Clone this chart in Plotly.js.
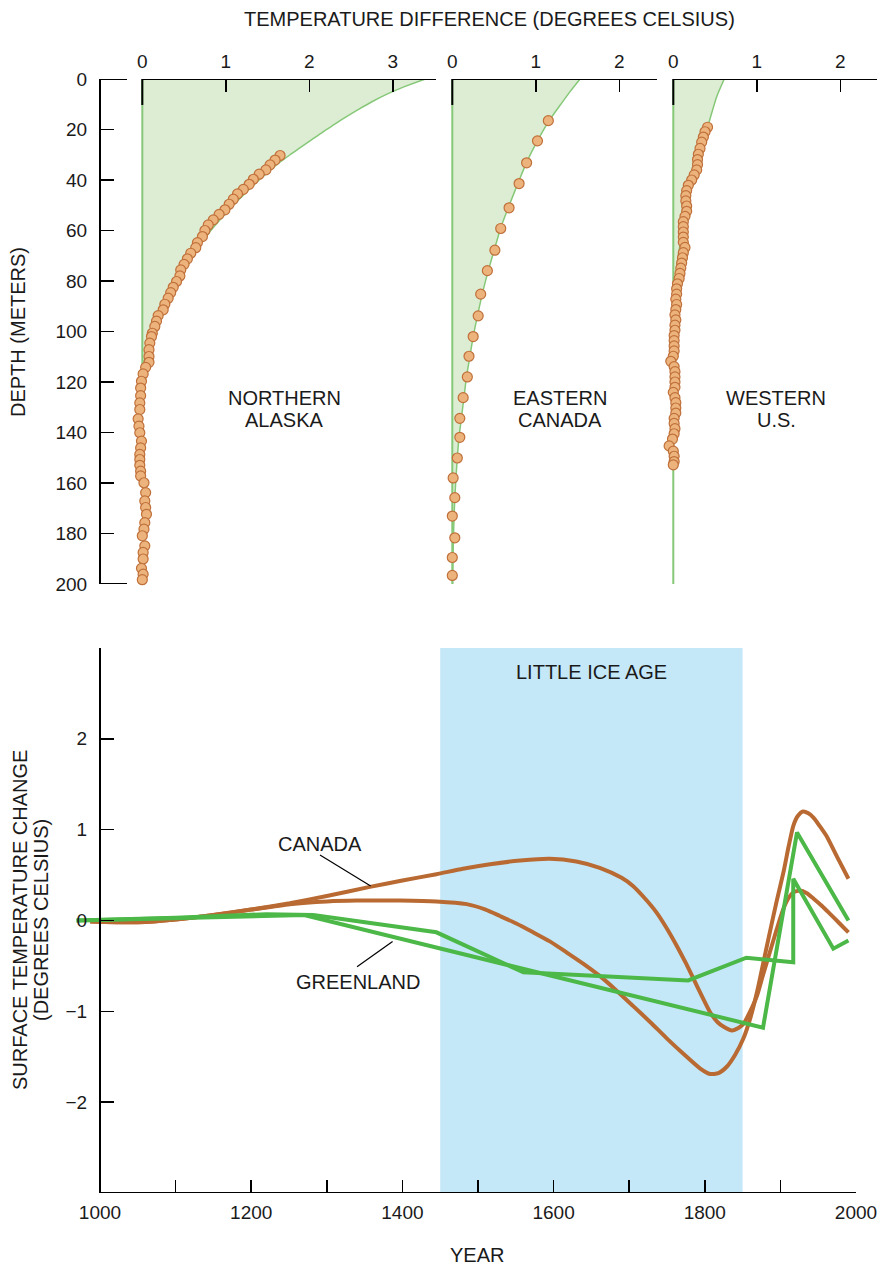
<!DOCTYPE html>
<html>
<head>
<meta charset="utf-8">
<script src="https://cdn.plot.ly/plotly-3.0.1.min.js"></script>
<style>html,body{margin:0;padding:0;background:#fff;}#chart{width:880px;height:1266px;}</style>
</head>
<body>
<div id="chart"></div>
<script>
// ---------- Top panels: borehole temperature-depth profiles ----------
const alaskaDepth = [30.3,32.1,34,36,37.7,39.7,41.7,43.7,45.5,47.6,49.6,51.8,53.6,55.8,57.8,60,62.4,64.8,66.8,69,71.2,73.4,75.6,78,80.2,82.5,84.6,86.8,89.2,91.4,93.7,95.9,98,100.7,102,104.6,107.2,109.9,112.2,114.2,116.8,119.7,122.4,125.4,128.3,130.9,134.6,137.5,140.1,143.4,146.1,148.7,150.7,153,155.3,157.2,159.9,163.8,167.1,169.7,172.4,175.7,178.3,180.9,184.9,187.5,190.1,193.8,196.1,198.3];
const alaskaDT = [1.65,1.59,1.53,1.48,1.40,1.33,1.28,1.21,1.14,1.09,1.04,0.99,0.92,0.85,0.79,0.75,0.72,0.66,0.64,0.58,0.54,0.50,0.46,0.45,0.41,0.37,0.34,0.31,0.27,0.25,0.19,0.17,0.15,0.12,0.11,0.09,0.08,0.08,0.08,0.04,0.01,-0.01,-0.02,-0.02,-0.03,-0.03,-0.05,-0.04,-0.03,-0.01,-0.02,-0.03,-0.03,-0.03,-0.02,-0.02,0.02,0.04,0.03,0.04,0.05,0.03,0.02,0.0,0.03,0.01,0.01,-0.01,0.01,0.0];
const alaskaModelDepth = [0,3,6,9,12,15,18,21,24,27,30,35,40,45,50,55,60,65,70,75,80,85,90,95,100,105,110,114];
const alaskaModelDT = [3.39,3.14,2.93,2.75,2.59,2.44,2.30,2.16,2.03,1.90,1.77,1.57,1.40,1.24,1.09,0.95,0.82,0.71,0.60,0.51,0.42,0.34,0.27,0.20,0.14,0.09,0.04,0.0];

const canadaDepth = [16.5,24.5,33.2,41.4,51.0,59.2,67.8,75.9,85.2,93.8,102.0,109.8,118.0,126.2,134.4,141.9,150.1,158.0,165.8,173.1,181.7,189.5,196.6];
const canadaDT = [1.15,1.02,0.89,0.80,0.68,0.58,0.51,0.42,0.34,0.31,0.25,0.20,0.18,0.13,0.09,0.09,0.06,0.01,0.03,0.00,0.03,0.00,0.00];
const canadaModelDepth = [0,5,10,16.5,24.5,33,41,51,59,68,76,85,94,102,110,118,126,134,142,150,160,170,180,190,200];
const canadaModelDT = [1.53,1.41,1.30,1.16,1.02,0.89,0.79,0.67,0.58,0.50,0.43,0.36,0.30,0.25,0.21,0.17,0.14,0.11,0.08,0.06,0.04,0.025,0.015,0.008,0.004];

const westDepth = [19.1,20.9,23,25,27.5,29.8,31.9,33.9,36,38,40,42.1,44.2,46.2,48.3,50.3,52.4,54.4,56.5,58.5,60.6,62.6,64.7,66.7,68.8,70.8,72.9,74.9,77,79,81.1,83.1,85.2,87.2,89.3,91.3,93.4,95.4,97.5,99.5,101.6,103.6,105.7,107.7,109.8,111.8,113.9,115.9,118,120,122.1,124.1,126.2,128.2,130.3,132.3,134.4,136.4,138.5,140.5,142.6,145.3,147.4,149.4,151.5,152.8];
const westDT = [0.41,0.38,0.36,0.34,0.32,0.30,0.29,0.29,0.28,0.25,0.22,0.18,0.16,0.15,0.15,0.16,0.16,0.14,0.12,0.12,0.12,0.12,0.12,0.14,0.12,0.11,0.10,0.09,0.08,0.07,0.05,0.04,0.04,0.03,0.04,0.03,0.02,0.03,0.02,0.02,0.01,0.01,0.01,0.01,0.0,-0.03,0.01,0.02,0.02,0.02,0.02,0.0,0.02,0.03,0.03,0.03,0.01,0.01,0.02,0.01,-0.01,-0.05,0.0,0.01,0.01,0.0];
const westModelDepth = [0,7,18,25,30,40,50,60,70,80,84];
const westModelDT = [0.61,0.52,0.42,0.36,0.32,0.24,0.17,0.11,0.06,0.02,0.0];

const depthTicks = [0,20,40,60,80,100,120,140,160,180,200];
const panelLabels = [["NORTHERN","ALASKA"],["EASTERN","CANADA"],["WESTERN","U.S."]];

// ---------- Bottom panel: reconstructed surface temperature ----------
const canadaAYear = [987,1050,1100,1150,1200,1251,1300,1357,1400,1445,1480,1516,1556,1595,1630,1661,1690,1705,1720,1736,1750,1763,1775,1785,1796,1807,1817,1825,1836,1845,1851,1860,1869,1877,1886,1895,1904,1911,1917,1926,1935,1944,1955,1966,1978,1990];
const canadaAVal = [-0.01,-0.02,0.01,0.06,0.12,0.19,0.27,0.37,0.44,0.51,0.57,0.62,0.66,0.68,0.65,0.58,0.47,0.38,0.25,0.09,-0.09,-0.28,-0.47,-0.64,-0.83,-1.01,-1.12,-1.17,-1.21,-1.18,-1.14,-1.0,-0.83,-0.6,-0.35,-0.10,0.13,0.25,0.31,0.33,0.30,0.24,0.16,0.07,-0.03,-0.13];
const canadaBYear = [987,1050,1100,1150,1200,1251,1300,1339,1397,1445,1485,1510,1529,1550,1573,1595,1617,1640,1661,1683,1705,1728,1750,1772,1794,1807,1818,1829,1840,1851,1860,1869,1877,1886,1895,1904,1911,1917,1923,1930,1937,1944,1952,1961,1975,1990];
const canadaBVal = [-0.01,-0.02,0.01,0.06,0.12,0.18,0.21,0.22,0.22,0.21,0.18,0.12,0.05,-0.03,-0.13,-0.23,-0.35,-0.48,-0.61,-0.77,-0.94,-1.12,-1.30,-1.47,-1.63,-1.69,-1.68,-1.61,-1.48,-1.30,-1.08,-0.79,-0.48,-0.13,0.21,0.53,0.82,1.04,1.15,1.20,1.18,1.13,1.04,0.93,0.70,0.46];
const greenland1Year = [969,1100,1220,1282,1445,1560,1778,1855,1917,1917,1970,1990];
const greenland1Val = [0.0,0.03,0.07,0.06,-0.13,-0.57,-0.66,-0.41,-0.46,0.46,-0.31,-0.22];
const greenland2Year = [969,1100,1270,1877,1922,1990];
const greenland2Val = [0.0,0.03,0.06,-1.18,0.97,0.0];
const iceAgeStart = 1450, iceAgeEnd = 1850;
const yearTicks = [1000,1100,1200,1300,1400,1500,1600,1700,1800,1900,2000];
const yearTickText = ["1000","","1200","","1400","","1600","","1800","","2000"];
const changeTicks = [-2,-1,0,1,2,3];
const changeTickText = ["\u22122","\u22121","0","1","2",""];

// ---------- styling ----------
const W = 880, H = 1266;
const FONT = "Liberation Sans, Arial, Helvetica, sans-serif";
const TXT = "#1a1a1a";
const BROWN = "#b96a33", GREEN = "#4cb848";
const FILLG = "#dcedd4", MODELG = "#86c878";
const DOTFILL = "#ecb47c", DOTLINE = "#c0703a";
const BLUE = "#c5e8f8";
const UNIT = 83.5;      // px per degree on the top panels
const PAD = 0.15;       // small negative margin so dots left of zero stay visible
const px = v => v / W, py = v => 1 - v / H;

function modelTrace(xa, dt, depth) {
  return {x: dt, y: depth, xaxis: xa, yaxis: 'y', type: 'scatter', mode: 'lines',
    fill: 'tozerox', fillcolor: FILLG, line: {color: MODELG, width: 1.5, shape: 'spline', smoothing: 0.6}, hoverinfo: 'skip'};
}
function zeroLine(xa, depth) {
  return {x: [0, 0], y: [0, depth], xaxis: xa, yaxis: 'y', type: 'scatter', mode: 'lines',
    line: {color: MODELG, width: 2}, hoverinfo: 'skip'};
}
function dotTrace(xa, dt, depth) {
  return {x: dt, y: depth, xaxis: xa, yaxis: 'y', type: 'scatter', mode: 'markers', cliponaxis: false,
    marker: {size: 10, color: DOTFILL, line: {color: DOTLINE, width: 1.2}}};
}
function lineTrace(xs, ys, color, spline) {
  return {x: xs, y: ys, xaxis: 'x4', yaxis: 'y2', type: 'scatter', mode: 'lines',
    line: {color: color, width: 4, shape: spline ? 'spline' : 'linear', smoothing: 0.6}};
}

const traces = [
  modelTrace('x', alaskaModelDT, alaskaModelDepth), zeroLine('x', 114), dotTrace('x', alaskaDT, alaskaDepth),
  modelTrace('x2', canadaModelDT, canadaModelDepth), zeroLine('x2', 200), dotTrace('x2', canadaDT, canadaDepth),
  modelTrace('x3', westModelDT, westModelDepth), zeroLine('x3', 200), dotTrace('x3', westDT, westDepth),
  lineTrace(canadaAYear, canadaAVal, BROWN, true),
  lineTrace(canadaBYear, canadaBVal, BROWN, true),
  lineTrace(greenland1Year, greenland1Val, GREEN, false),
  lineTrace(greenland2Year, greenland2Val, GREEN, false)
];

const tickFont = {family: FONT, size: 19, color: TXT};
const panels = [
  {ax: 'x', zeroPx: 142.3, endPx: 436, ticks: [0, 1, 2, 3]},
  {ax: 'x2', zeroPx: 452.3, endPx: 657, ticks: [0, 1, 2]},
  {ax: 'x3', zeroPx: 673.3, endPx: 877, ticks: [0, 1, 2]}
];
function topX(p) {
  return {domain: [px(p.zeroPx - PAD * UNIT), px(p.endPx)], range: [-PAD, (p.endPx - p.zeroPx) / UNIT], anchor: 'y', side: 'top',
    showline: false, ticks: 'inside', ticklen: 13, tickwidth: 1.5, tickcolor: '#000',
    tickvals: p.ticks, ticktext: p.ticks.map(String), tickfont: tickFont, ticklabelstandoff: 6,
    showgrid: false, zeroline: false, fixedrange: true};
}

const layout = {
  width: W, height: H, margin: {l: 0, r: 0, t: 0, b: 0},
  paper_bgcolor: '#fff', plot_bgcolor: 'rgba(0,0,0,0)', showlegend: false,
  xaxis: topX(panels[0]), xaxis2: topX(panels[1]), xaxis3: topX(panels[2]),
  yaxis: {domain: [py(584), py(79)], range: [200, 0], anchor: 'free', position: px(100), side: 'left',
    showline: true, linecolor: '#000', linewidth: 2, ticks: 'inside', ticklen: 13, tickwidth: 1.5, tickcolor: '#000',
    tickvals: depthTicks, ticktext: depthTicks.map(String), tickfont: tickFont, ticklabelstandoff: 8,
    showgrid: false, zeroline: false, fixedrange: true},
  xaxis4: {domain: [px(100 - 40 * 0.756), px(856)], range: [960, 2000], anchor: 'y2', side: 'bottom',
    showline: false, ticks: 'inside', ticklen: 13, tickwidth: 1.5, tickcolor: '#000',
    tickvals: yearTicks, ticktext: yearTickText, tickfont: tickFont, ticklabelstandoff: 6,
    showgrid: false, zeroline: false, fixedrange: true},
  yaxis2: {domain: [py(1193), py(648)], range: [-3, 3], anchor: 'free', position: px(100), side: 'left',
    showline: true, linecolor: '#000', linewidth: 2, ticks: 'inside', ticklen: 13, tickwidth: 1.5, tickcolor: '#000',
    tickvals: changeTicks, ticktext: changeTickText, tickfont: tickFont, ticklabelstandoff: 8,
    showgrid: false, zeroline: false, fixedrange: true},
  shapes: [
    {type: 'rect', xref: 'x4', yref: 'y2', x0: iceAgeStart, x1: iceAgeEnd, y0: -3, y1: 3,
      fillcolor: BLUE, line: {width: 0}, layer: 'below'},
    {type: 'line', xref: 'x4', yref: 'y2', x0: 1000, x1: 2000, y0: -3, y1: -3, line: {color: '#000', width: 2}, layer: 'above'},
    // bracket ends of the depth axis
    {type: 'line', xref: 'paper', yref: 'y', x0: px(100), x1: px(127), y0: 0, y1: 0, line: {color: '#000', width: 2}, layer: 'above'},
    {type: 'line', xref: 'paper', yref: 'y', x0: px(100), x1: px(127), y0: 200, y1: 200, line: {color: '#000', width: 2}, layer: 'above'},
    // leader lines
    {type: 'line', xref: 'x4', yref: 'y2', x0: 1291, y0: 0.72, x1: 1358, y1: 0.38, line: {color: '#000', width: 1.2}},
    {type: 'line', xref: 'x4', yref: 'y2', x0: 1340, y0: -0.51, x1: 1387, y1: -0.23, line: {color: '#000', width: 1.2}}
  ],
  annotations: []
};
// top axis lines (from zero to panel end) and long zero ticks
panels.forEach(p => {
  const maxv = (p.endPx - p.zeroPx) / UNIT;
  layout.shapes.push({type: 'line', xref: p.ax, yref: 'y', x0: 0, x1: maxv, y0: 0, y1: 0, line: {color: '#000', width: 2}, layer: 'above'});
  layout.shapes.push({type: 'line', xref: p.ax, yref: 'y', x0: 0, x1: 0, y0: 0, y1: 10.3, line: {color: '#000', width: 2}, layer: 'above'});
});

function ann(text, x, y, size, angle) {
  layout.annotations.push({text: text, xref: 'paper', yref: 'paper', x: px(x), y: py(y),
    xanchor: 'center', yanchor: 'middle', showarrow: false, textangle: angle || 0,
    font: {family: FONT, size: size, color: TXT}});
}
ann("TEMPERATURE DIFFERENCE (DEGREES CELSIUS)", 490, 19, 20);
ann("DEPTH (METERS)", 18, 332, 20, -90);
const labelX = [284, 560, 776];
panelLabels.forEach((p, i) => { ann(p[0], labelX[i], 398, 20); ann(p[1], labelX[i], 420, 20); });
ann("LITTLE ICE AGE", 591, 672, 20);
ann("CANADA", 320, 844, 20);
ann("GREENLAND", 358, 982, 20);
ann("SURFACE TEMPERATURE CHANGE", 20, 920, 20, -90);
ann("(DEGREES CELSIUS)", 41, 920, 20, -90);
ann("YEAR", 477, 1255, 20);

Plotly.newPlot('chart', traces, layout, {displayModeBar: false, staticPlot: true});
</script>
</body>
</html>
